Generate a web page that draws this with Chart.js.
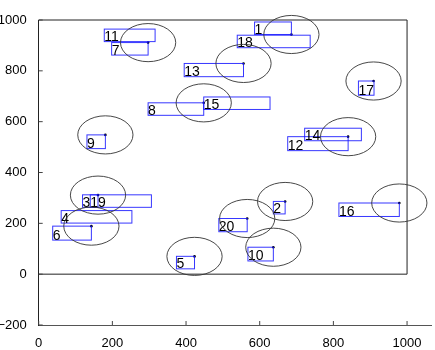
<!DOCTYPE html>
<html><head><meta charset="utf-8">
<script src="https://cdn.jsdelivr.net/npm/chart.js@4.4.0/dist/chart.umd.min.js"></script>
<style>html,body{margin:0;padding:0;background:#fff;overflow:hidden}</style>
</head><body>
<canvas id="c" width="435" height="350" style="display:block"></canvas>
<script>
// ---- data ----
const pointLabels = ['1','2','3','4','5','6','7','8','9','10','11','12','13','14','15','16','17','18','19','20'];
const pointX = [686,669,161,253,423,143,297,448,181,637,316,840,556,876,628,979,909,737,306,566];
const pointY = [943,286,311,250,70,189,911,674,548,106,915,541,829,572,696,280,760,940,310,219];
const labelX = [586,637,119,61,374,38,198,297,131,568,178,676,395,722,448,815,868,539,140,489];
const labelY = [943,237,263,201,21,134,862,625,494,52,915,486,777,525,648,227,704,891,263,167];
const circled = [1,1,1,0,1,1,1,1,1,1,0,1,1,0,0,1,1,0,0,1];
const circleRadius = 75;
const boxX = [0,1000];
const boxY = [0,1000];
const xTicks = [0,200,400,600,800,1000];
const yTicks = [-200,0,200,400,600,800,1000];

const TEXT_H = 12.5;
const FONT = '14px "Liberation Sans", Arial, sans-serif';

const overlay = {
  id: 'overlay',
  afterDatasetsDraw(chart) {
    const ctx = chart.ctx, xs = chart.scales.x, ys = chart.scales.y;
    const ca = chart.chartArea;
    ctx.save();
    // square frame
    ctx.strokeStyle = '#222';
    ctx.lineWidth = 1;
    ctx.beginPath();
    ctx.moveTo(xs.getPixelForValue(boxX[0]), ys.getPixelForValue(boxY[1]));
    ctx.lineTo(xs.getPixelForValue(boxX[1]), ys.getPixelForValue(boxY[1]));
    ctx.lineTo(xs.getPixelForValue(boxX[1]), ys.getPixelForValue(boxY[0]));
    ctx.lineTo(xs.getPixelForValue(boxX[0]), ys.getPixelForValue(boxY[0]));
    ctx.stroke();
    // inward ticks
    ctx.strokeStyle = '#444';
    ctx.beginPath();
    xTicks.forEach(v => { const p = xs.getPixelForValue(v); ctx.moveTo(p, ca.bottom); ctx.lineTo(p, ca.bottom - 4); });
    yTicks.forEach(v => { const p = ys.getPixelForValue(v); ctx.moveTo(ca.left, p); ctx.lineTo(ca.left + 4, p); });
    ctx.stroke();
    // label boxes and text
    ctx.font = FONT;
    ctx.textBaseline = 'alphabetic';
    ctx.textAlign = 'left';
    for (let i = 0; i < pointLabels.length; i++) {
      const px = xs.getPixelForValue(pointX[i]), py = ys.getPixelForValue(pointY[i]);
      const lx = xs.getPixelForValue(labelX[i]), lb = ys.getPixelForValue(labelY[i]);
      const w = ctx.measureText(pointLabels[i]).width;
      const x0 = Math.min(lx, px), x1 = Math.max(lx + w, px);
      const y0 = Math.min(lb - TEXT_H, py), y1 = Math.max(lb, py);
      ctx.strokeStyle = 'rgba(20,20,255,0.85)';
      ctx.lineWidth = 1;
      ctx.strokeRect(x0, y0, x1 - x0, y1 - y0);
      ctx.fillStyle = '#000';
      ctx.fillText(pointLabels[i], lx, lb - 0.5);
    }
    // circles
    ctx.strokeStyle = '#333';
    ctx.lineWidth = 0.9;
    for (let i = 0; i < pointLabels.length; i++) {
      if (!circled[i]) continue;
      const cx = xs.getPixelForValue(pointX[i]), cy = ys.getPixelForValue(pointY[i]);
      const rx = Math.abs(xs.getPixelForValue(pointX[i] + circleRadius) - cx);
      const ry = Math.abs(ys.getPixelForValue(pointY[i] + circleRadius) - cy);
      ctx.beginPath();
      ctx.ellipse(cx, cy, rx, ry, 0, 0, Math.PI * 2);
      ctx.stroke();
    }
    ctx.restore();
  }
};

new Chart(document.getElementById('c'), {
  type: 'scatter',
  data: {
    datasets: [{
      data: pointX.map((v, i) => ({x: v, y: pointY[i]})),
      pointRadius: circled.map(c => c ? 1.3 : 0),
      pointBackgroundColor: '#000',
      pointBorderColor: '#000',
      pointBorderWidth: 0
    }]
  },
  options: {
    responsive: false,
    animation: false,
    layout: {padding: {top: 20, right: 0, left: 0, bottom: 0}},
    plugins: {legend: {display: false}, tooltip: {enabled: false}},
    scales: {
      x: {
        type: 'linear', min: 0, max: 1065,
        grid: {display: false},
        border: {display: true, color: '#555', width: 1},
        ticks: {color: '#000', padding: 3, maxRotation: 0, font: {family: '"Liberation Sans", Arial, sans-serif', size: 13},
          callback: v => String(v).replace('-', '\u2212')},
        afterBuildTicks: s => { s.ticks = xTicks.map(v => ({value: v})); },
        afterFit: s => { s.height = 25; }
      },
      y: {
        type: 'linear', min: -200, max: 1000,
        grid: {display: false},
        border: {display: true, color: '#222', width: 1},
        ticks: {color: '#000', padding: 4, font: {family: '"Liberation Sans", Arial, sans-serif', size: 13},
          callback: v => String(v).replace('-', '\u2212')},
        afterBuildTicks: s => { s.ticks = yTicks.map(v => ({value: v})); },
        afterFit: s => { s.width = 38.7; }
      }
    }
  },
  plugins: [overlay]
});
</script>
</body></html>
